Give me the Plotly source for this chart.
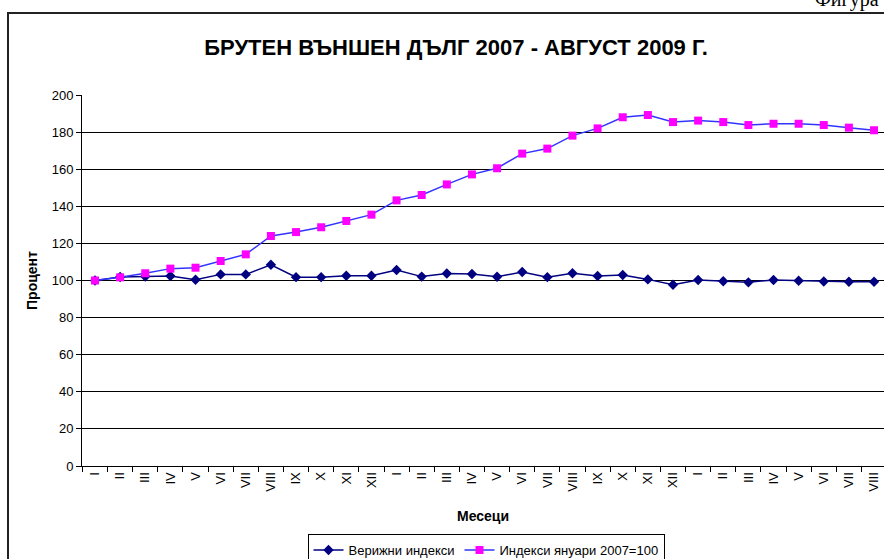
import plotly.graph_objects as go

months = ["I", "II", "III", "IV", "V", "VI", "VII", "VIII", "IX", "X", "XI", "XII",
          "I", "II", "III", "IV", "V", "VI", "VII", "VIII", "IX", "X", "XI", "XII",
          "I", "II", "III", "IV", "V", "VI", "VII", "VIII"]

chain_index = [100.0, 101.9, 102.1, 102.4, 100.4, 103.3, 103.3, 108.5, 101.8, 101.8, 102.6, 102.6,
               105.7, 102.1, 103.8, 103.5, 102.0, 104.6, 101.8, 103.9, 102.4, 103.0, 100.6, 97.7,
               100.3, 99.6, 99.0, 100.3, 99.9, 99.5, 99.3, 99.3]

base_index = [100.0, 101.7, 103.9, 106.4, 106.9, 110.5, 114.1, 124.0, 126.1, 128.7, 132.1, 135.5,
              143.2, 146.1, 151.8, 157.2, 160.5, 168.4, 171.1, 178.1, 182.0, 188.0, 189.2, 185.4,
              186.2, 185.4, 183.8, 184.5, 184.5, 183.8, 182.4, 181.0]

y_ticks = [0, 20, 40, 60, 80, 100, 120, 140, 160, 180, 200]

x = list(range(len(months)))

W, H = 884, 559
L, R, T, B = 82, 884, 95, 466


def px_x(p):
    return (p - L) / (R - L)


def px_y(p):
    return (B - p) / (B - T)


fig = go.Figure()
fig.add_trace(go.Scatter(
    x=x, y=chain_index, name="Верижни индекси", mode="lines+markers",
    line=dict(color="#000080", width=1.5),
    marker=dict(symbol="diamond", size=8, color="#000080"),
))
fig.add_trace(go.Scatter(
    x=x, y=base_index, name="Индекси януари 2007=100", mode="lines+markers",
    line=dict(color="#3333FF", width=1.5),
    marker=dict(symbol="square", size=8, color="#FF00FF"),
))

fig.update_layout(
    width=W, height=H,
    margin=dict(l=L, r=W - R, t=T, b=H - B, pad=0, autoexpand=False),
    paper_bgcolor="white", plot_bgcolor="white",
    font=dict(family="Liberation Sans, Arial, sans-serif", size=13, color="black"),
    title=dict(text="<b>БРУТЕН ВЪНШЕН ДЪЛГ 2007 - АВГУСТ 2009 Г.</b>",
               x=px_x(456), xref="paper", xanchor="center", y=1 - 47 / H, yanchor="middle",
               font=dict(size=22, family="Liberation Sans, Arial")),
    xaxis=dict(
        range=[(L - 95) / 25.13, (R - 95) / 25.13],
        tickmode="array", tickvals=x, ticktext=months, tickangle=-90,
        ticks="", showgrid=False, zeroline=False, automargin=False,
        showline=True, linecolor="black", linewidth=1,
        tickfont=dict(size=13),
        minor=dict(tickmode="linear", tick0=-0.5, dtick=1, ticks="outside",
                   ticklen=5, tickcolor="black", tickwidth=1, showgrid=False),
        title=dict(text="<b>Месеци</b>", font=dict(size=14), standoff=20),
    ),
    yaxis=dict(
        range=[0, 200], tickmode="array", tickvals=y_ticks,
        ticks="outside", ticklen=5, tickcolor="black", automargin=False,
        showgrid=True, gridcolor="black", gridwidth=1,
        zeroline=False, showline=True, linecolor="black", linewidth=1,
        tickfont=dict(size=13),
        title=dict(text="<b>Процент</b>", font=dict(size=14), standoff=10),
    ),
    legend=dict(
        orientation="h", x=px_x(486), xanchor="center", y=px_y(534), yanchor="top",
        bordercolor="black", borderwidth=1, bgcolor="white",
        font=dict(size=13), itemwidth=30, tracegroupgap=0,
    ),
    showlegend=True,
)

fig.add_shape(type="rect", xref="paper", yref="paper",
              x0=px_x(8), x1=px_x(900), y0=px_y(580), y1=px_y(13),
              line=dict(color="#222222", width=2), fillcolor="rgba(0,0,0,0)", layer="below")

fig.add_annotation(text="Фигура", xref="paper", yref="paper",
                   x=px_x(813), y=px_y(13), xanchor="left", yanchor="bottom",
                   showarrow=False,
                   font=dict(family="Liberation Serif, Times New Roman, serif", size=20, color="black"))

fig.write_html("out.html", config={"displayModeBar": False},
               post_script="document.body.style.margin='0';")
